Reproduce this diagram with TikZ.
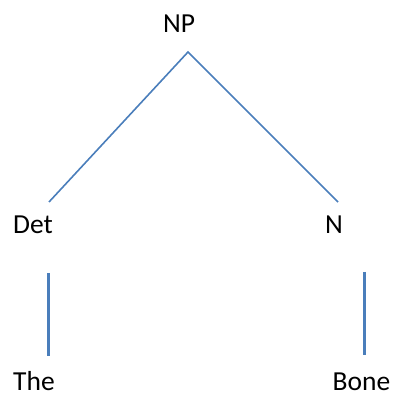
\documentclass[tikz,border=0pt]{standalone}
\usepackage{fontspec}
\setmainfont{Carlito}
\definecolor{branch}{HTML}{4A7EBB}
\begin{document}
\begin{tikzpicture}[x=1bp,y=1bp,
  word/.style={inner sep=0pt, anchor=base, font=\fontsize{27.6}{30}\selectfont},
  edge/.style={draw=branch, line width=1.6bp},
  stem/.style={draw=branch, line width=2.6bp}]
  \useasboundingbox (0,0) rectangle (395,396);
  % labels of the tree
  \node[word] (np)   at (179,364) {NP};
  \node[word] (det)  at (33,163)  {Det};
  \node[word] (n)    at (334,163) {N};
  \node[word] (the)  at (34,5.5)  {The};
  \node[word] (bone) at (361.5,5.5) {Bone};
  % branch end points
  \coordinate (np-foot)   at (188,344);
  \coordinate (det-top)   at (49,194);
  \coordinate (n-top)     at (338,194);
  \coordinate (det-foot)  at (48.3,123);
  \coordinate (the-top)   at (48.3,40);
  \coordinate (n-foot)    at (364.3,124);
  \coordinate (bone-top)  at (364.3,41);
  % branches
  \draw[edge] (det-top) -- (np-foot) -- (n-top);
  \draw[stem] (det-foot) -- (the-top);
  \draw[stem] (n-foot) -- (bone-top);
\end{tikzpicture}
\end{document}
